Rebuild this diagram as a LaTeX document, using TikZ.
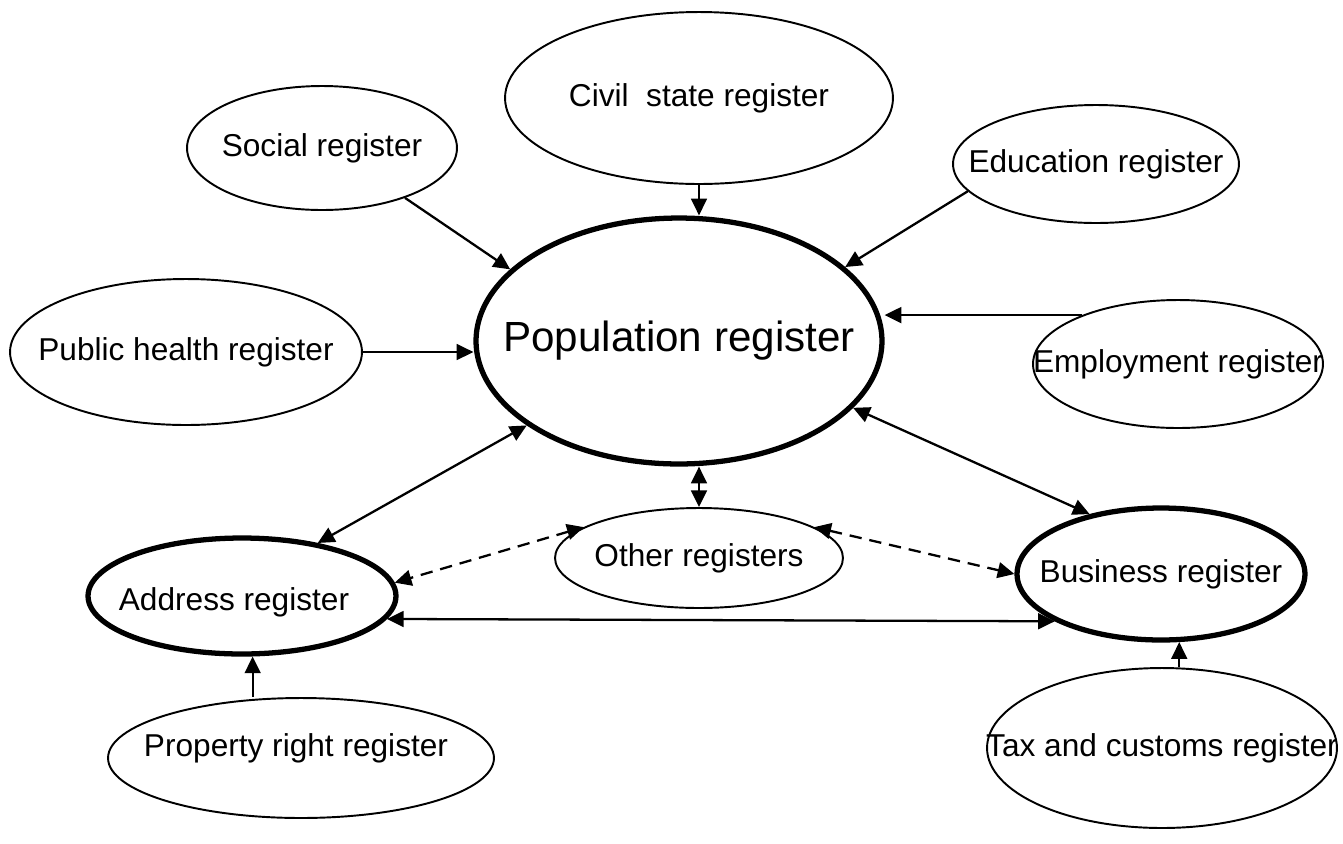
\documentclass[tikz,border=0pt]{standalone}
\usepackage{fontspec}
\setmainfont{Liberation Sans}
\usetikzlibrary{shapes.geometric,arrows.meta}

\begin{document}
\begin{tikzpicture}[x=0.02cm,y=-0.02cm,
    >={Triangle[length=9.5pt,width=9pt]},
    every label/.style={font=\fontsize{18}{22}\selectfont},
    reg/.style={draw, ellipse, inner sep=0pt, line width=1.1pt},
    mainreg/.style={reg, line width=3pt},
    link/.style={line width=1.3pt},
    dlink/.style={link, dash pattern=on 7pt off 4.5pt}]
    \useasboundingbox (0,0) rectangle (1343,843);
    % registers
    \node [reg, minimum width=7.76cm, minimum height=3.44cm,
        label=center:Civil\ \ state register] (civil) at (699,98) {};
    \node [reg, minimum width=5.4cm, minimum height=2.48cm,
        label=center:Social register] (social) at (322,148) {};
    \node [reg, minimum width=5.72cm, minimum height=2.36cm,
        label=center:Education register] (edu) at (1096,164) {};
    \node [reg, minimum width=7.04cm, minimum height=2.92cm,
        label=center:Public health register] (health) at (186,352) {};
    \node [mainreg, minimum width=8.12cm, minimum height=4.92cm,
        label={[font=\fontsize{24}{28}\selectfont]center:Population register}] (pop) at (679,341) {};
    \node [reg, minimum width=5.8cm, minimum height=2.56cm,
        label=center:Employment register] (emp) at (1178,364) {};
    \node [reg, minimum width=5.76cm, minimum height=2cm,
        label=center:Other registers] (other) at (699,558) {};
    \node [mainreg, minimum width=6.16cm, minimum height=2.32cm,
        label={[xshift=-0.16cm,yshift=-0.12cm]center:Address register}] (address) at (242,596) {};
    \node [mainreg, minimum width=5.76cm, minimum height=2.64cm,
        label=center:Business register] (business) at (1161,574) {};
    \node [reg, minimum width=7.72cm, minimum height=2.4cm,
        label={[xshift=-0.1cm,yshift=0.2cm]center:Property right register}] (property) at (301,758) {};
    \node [reg, minimum width=7cm, minimum height=3.2cm,
        label=center:Tax and customs register] (tax) at (1162,748) {};
    % links into the population register
    \draw [link,->] (civil.south) -- (civil.south |- pop.north);
    \draw [link,->] (social.-31) -- (pop.157);
    \draw [link,->] (edu.192) -- (pop.24);
    \draw [link,->] (health.east) -- (health.east -| pop.west);
    \draw [link,->] (emp.153) -- (emp.153 -| pop.east);
    \draw [link,<->] (pop.209) -- (address.35);
    \draw [link,<->] (pop.-21) -- (business.140);
    % links between the others
    \draw [link,<->] (address.-9) -- (business.204);
    \draw [dlink,<->] (other.north |- pop.south) -- (other.north);
    \draw [dlink,<->] (other.165) -- (address.5);
    \draw [dlink,<->] (other.15) -- (business.west);
    \draw [link,->] (property.north -| address.-80) -- (address.-80);
    \draw [link,->] (tax.north -| business.-75) -- (business.-75);
\end{tikzpicture}
\end{document}
